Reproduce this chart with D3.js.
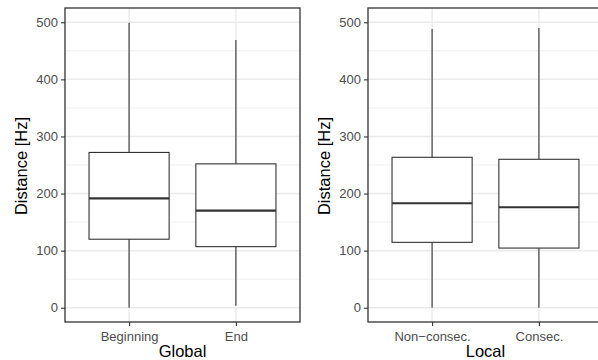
<!DOCTYPE html>
<html>
<head>
<meta charset="utf-8">
<script src="https://cdn.jsdelivr.net/npm/d3@7"></script>
<style>
  html, body { margin: 0; padding: 0; background: #fff; }
  svg { display: block; font-family: "Liberation Sans", Arial, sans-serif; }
</style>
</head>
<body>
<div id="chart"></div>
<script>
// values (Hz)
const globalCats = ['Beginning', 'End'];
const globalLower = [0, 3.5];
const globalQ1 = [120, 107];
const globalMedian = [191.5, 170];
const globalQ3 = [272, 252];
const globalUpper = [499, 469];

const localCats = ['Non\u2212consec.', 'Consec.'];
const localLower = [0, 0];
const localQ1 = [114.5, 104.5];
const localMedian = [183, 176];
const localQ3 = [263.5, 260];
const localUpper = [488, 490];

const yTicks = [0, 100, 200, 300, 400, 500];
const yMinor = [50, 150, 250, 350, 450];

const width = 598, height = 360;
const panelTop = 8, panelBottom = 322;

const svg = d3.select('#chart')
  .append('svg')
  .attr('width', width)
  .attr('height', height);

const y = d3.scaleLinear()
  .domain([-25, 525])
  .range([panelBottom, panelTop]);

function drawPanel(left, right, cats, lower, q1, med, q3, upper, title) {
  const x = d3.scalePoint()
    .domain(cats)
    .range([left, right])
    .padding(0.6);
  const boxW = x.step() * 0.75;

  const g = svg.append('g');

  // grid
  g.selectAll('.minor')
    .data(yMinor)
    .join('line')
    .attr('x1', left).attr('x2', right)
    .attr('y1', d => y(d)).attr('y2', d => y(d))
    .attr('stroke', '#ebebeb')
    .attr('stroke-width', 0.8);

  g.selectAll('.major')
    .data(yTicks)
    .join('line')
    .attr('x1', left).attr('x2', right)
    .attr('y1', d => y(d)).attr('y2', d => y(d))
    .attr('stroke', '#ebebeb')
    .attr('stroke-width', 1.5);

  g.selectAll('.vmajor')
    .data(cats)
    .join('line')
    .attr('x1', d => x(d)).attr('x2', d => x(d))
    .attr('y1', panelTop).attr('y2', panelBottom)
    .attr('stroke', '#ebebeb')
    .attr('stroke-width', 1.5);

  const rows = cats.map((c, i) => ({
    cat: c, lo: lower[i], q1: q1[i], med: med[i], q3: q3[i], hi: upper[i]
  }));

  // whiskers
  g.selectAll('.whisk-up')
    .data(rows)
    .join('line')
    .attr('x1', d => x(d.cat)).attr('x2', d => x(d.cat))
    .attr('y1', d => y(d.q3)).attr('y2', d => y(d.hi))
    .attr('stroke', '#333')
    .attr('stroke-width', 1.1);

  g.selectAll('.whisk-down')
    .data(rows)
    .join('line')
    .attr('x1', d => x(d.cat)).attr('x2', d => x(d.cat))
    .attr('y1', d => y(d.q1)).attr('y2', d => y(d.lo))
    .attr('stroke', '#333')
    .attr('stroke-width', 1.1);

  // boxes
  g.selectAll('.box')
    .data(rows)
    .join('rect')
    .attr('x', d => x(d.cat) - boxW / 2)
    .attr('width', boxW)
    .attr('y', d => y(d.q3))
    .attr('height', d => y(d.q1) - y(d.q3))
    .attr('fill', '#fff')
    .attr('stroke', '#333')
    .attr('stroke-width', 1.1);

  g.selectAll('.median')
    .data(rows)
    .join('line')
    .attr('x1', d => x(d.cat) - boxW / 2).attr('x2', d => x(d.cat) + boxW / 2)
    .attr('y1', d => y(d.med)).attr('y2', d => y(d.med))
    .attr('stroke', '#333')
    .attr('stroke-width', 2.2);

  // border
  g.append('rect')
    .attr('x', left).attr('y', panelTop)
    .attr('width', right - left).attr('height', panelBottom - panelTop)
    .attr('fill', 'none')
    .attr('stroke', '#333')
    .attr('stroke-width', 1.3);

  // axes
  const yAxis = d3.axisLeft(y)
    .tickValues(yTicks)
    .tickSize(4)
    .tickPadding(3);

  const ya = g.append('g')
    .attr('transform', `translate(${left},0)`)
    .call(yAxis);
  ya.select('.domain').remove();
  ya.selectAll('.tick line').attr('stroke', '#333').attr('stroke-width', 1.1);
  ya.selectAll('text')
    .attr('fill', '#4d4d4d')
    .style('font-size', '13px')
    .style('font-family', '"Liberation Sans", Arial, sans-serif');

  const xAxis = d3.axisBottom(x)
    .tickSize(4)
    .tickPadding(3);

  const xa = g.append('g')
    .attr('transform', `translate(0,${panelBottom})`)
    .call(xAxis);
  xa.select('.domain').remove();
  xa.selectAll('.tick line').attr('stroke', '#333').attr('stroke-width', 1.1);
  xa.selectAll('text')
    .attr('fill', '#4d4d4d')
    .attr('y', 0)
    .attr('dy', null)
    .attr('transform', 'translate(0,19)')
    .style('font-size', '13px')
    .style('font-family', '"Liberation Sans", Arial, sans-serif');

  // titles
  g.append('text')
    .attr('x', (left + right) / 2)
    .attr('y', 357)
    .attr('text-anchor', 'middle')
    .attr('fill', '#000')
    .style('font-size', '16.5px')
    .text(title);

  g.append('text')
    .attr('transform', `translate(${left - 38},${(panelTop + panelBottom) / 2 + 1}) rotate(-90)`)
    .attr('text-anchor', 'middle')
    .attr('fill', '#000')
    .style('font-size', '16.5px')
    .text('Distance [Hz]');
}

drawPanel(65, 300, globalCats, globalLower, globalQ1, globalMedian, globalQ3, globalUpper, 'Global');
drawPanel(368, 603, localCats, localLower, localQ1, localMedian, localQ3, localUpper, 'Local');
</script>
</body>
</html>
